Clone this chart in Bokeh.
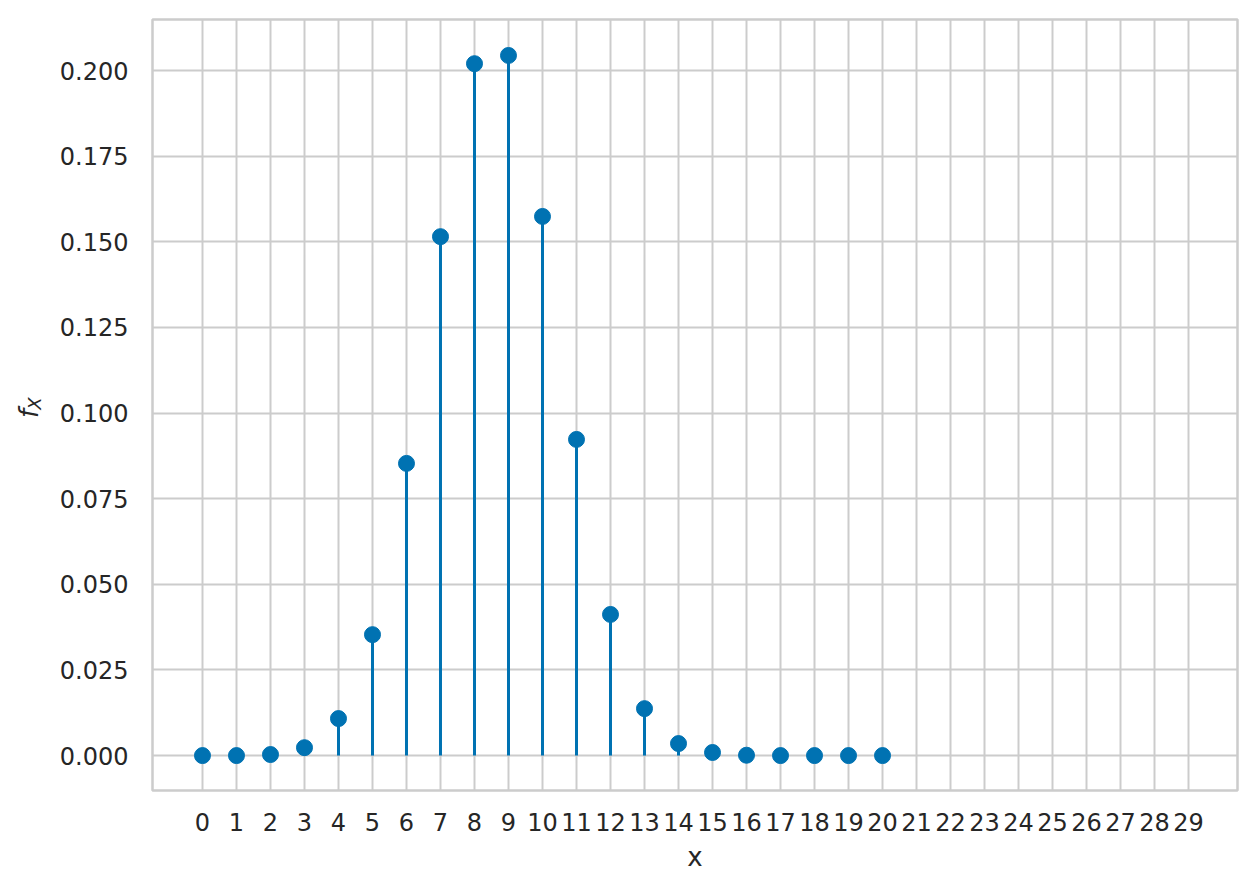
import math
from bokeh.plotting import figure
from bokeh.models import FixedTicker, NumeralTickFormatter, Label, Range1d, ColumnDataSource
from bokeh.embed import file_html
from bokeh.resources import INLINE

# data
xs = list(range(21))
pmf = [0.0000, 0.0000, 0.0003, 0.0023, 0.0108, 0.0353, 0.0853, 0.1515, 0.2020,
       0.2044, 0.1574, 0.0923, 0.0412, 0.0137, 0.0035, 0.0009, 0.0001, 0.0000,
       0.0000, 0.0000, 0.0000]
x_ticks = list(range(30))
y_ticks = [0.0, 0.025, 0.05, 0.075, 0.1, 0.125, 0.15, 0.175, 0.2]

BLUE = "#0072B2"
GRID = "#cccccc"
TXT = "#262626"
FONT = "DejaVu Sans"

XMIN, XMAX = -1.47, 30.44
YMIN, YMAX = -0.0102, 0.2149
FW, FH = 1085, 771

src = ColumnDataSource(dict(x=xs, y=pmf, y0=[0.0] * len(xs)))

p = figure(frame_width=FW, frame_height=FH, output_backend="svg",
           toolbar_location=None,
           x_range=Range1d(XMIN, XMAX), y_range=Range1d(YMIN, YMAX),
           min_border_left=152, min_border_top=19, min_border_right=8,
           min_border_bottom=96)
p.background_fill_color = "white"
p.border_fill_color = "white"
p.outline_line_color = GRID
p.outline_line_width = 2.5

p.xaxis.ticker = FixedTicker(ticks=x_ticks)
p.yaxis.ticker = FixedTicker(ticks=y_ticks)
p.yaxis.formatter = NumeralTickFormatter(format="0.000")
for ax in (p.xaxis, p.yaxis):
    ax.axis_line_color = None
    ax.major_tick_line_color = None
    ax.minor_tick_line_color = None
    ax.major_tick_out = 0
    ax.minor_tick_out = 0
    ax.major_label_text_font = FONT
    ax.major_label_text_font_size = "24px"
    ax.major_label_text_color = TXT
p.xaxis.major_label_standoff = 22
p.yaxis.major_label_standoff = 24
p.xaxis.axis_label = "x"
p.xaxis.axis_label_text_font = FONT
p.xaxis.axis_label_text_font_size = "26px"
p.xaxis.axis_label_text_font_style = "normal"
p.xaxis.axis_label_text_color = TXT
p.xaxis.axis_label_standoff = 8

p.xgrid.grid_line_color = GRID
p.ygrid.grid_line_color = GRID
p.xgrid.grid_line_width = 2
p.ygrid.grid_line_width = 2

p.segment(x0="x", y0="y0", x1="x", y1="y", source=src, line_color=BLUE, line_width=3)
p.scatter(x="x", y="y", source=src, size=16, fill_color=BLUE, line_color=BLUE)

# y label f_X in the left panels (screen offsets within each panel)
p.add_layout(Label(x=-1, y=790 - 403, x_units="screen", y_units="screen",
                   text="X", angle=math.pi / 2, text_font=FONT,
                   text_font_style="italic", text_font_size="18px",
                   text_color=TXT, text_align="center", text_baseline="middle"), "left")
p.add_layout(Label(x=23, y=790 - 413, x_units="screen", y_units="screen",
                   text="f", angle=math.pi / 2, text_font=FONT,
                   text_font_style="italic", text_font_size="26px",
                   text_color=TXT, text_align="center", text_baseline="middle"), "left")

open("out.html", "w").write(file_html(p, INLINE))
